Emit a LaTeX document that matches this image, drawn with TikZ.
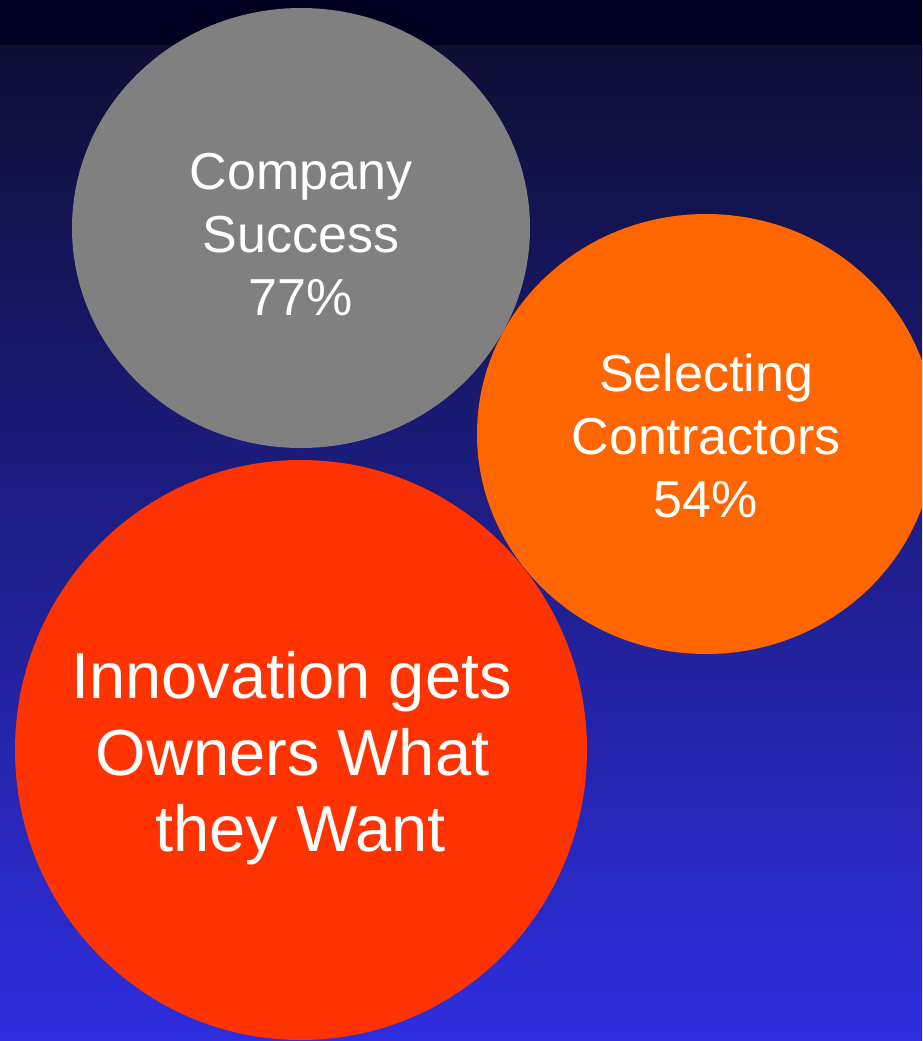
\documentclass[tikz,border=0pt]{standalone}
\usepackage{fontspec}
\setmainfont{Liberation Sans}
\usetikzlibrary{shapes.geometric}
\definecolor{topband}{RGB}{0,0,32}
\definecolor{bgtop}{RGB}{14,14,52}
\definecolor{bgbot}{RGB}{46,46,224}
\definecolor{graycirc}{RGB}{128,128,128}
\definecolor{orangecirc}{RGB}{255,102,0}
\definecolor{redcirc}{RGB}{255,51,0}
\tikzset{
  bubble/.style={ellipse, inner sep=0pt, draw=none},
  smalltext/.style={text=white, align=center, inner sep=0pt, font=\fontsize{52}{63}\selectfont},
  bigline/.style={text=white, inner sep=0pt, anchor=base, font=\fontsize{65}{77}\selectfont}
}
\begin{document}
\begin{tikzpicture}[x=1pt,y=-1pt]
\useasboundingbox (0,0) rectangle (922,1041);
\shade[top color=bgtop, bottom color=bgbot] (0,45) rectangle (922,1041);
\fill[topband] (0,0) rectangle (922,45);
\begin{scope}
\clip (0,0) rectangle (922,1041);
\node[bubble, fill=graycirc, minimum width=458pt, minimum height=440pt] (gray) at (301,228) {};
\node[bubble, fill=orangecirc, minimum width=458pt, minimum height=440pt] (orange) at (706,434) {};
\node[bubble, fill=redcirc, minimum width=572pt, minimum height=580pt] (red) at (301,750) {};
\end{scope}
\node[smalltext] (graylbl) at (301,234) {Company\\Success\\77\%};
\node[smalltext] (orangelbl) at (706,436) {Selecting\\Contractors\\54\%};
\node[bigline] (redA) at (291.5,698) {Innovation gets};
\node[bigline] (redB) at (292.5,775) {Owners What};
\node[bigline] (redC) at (300.5,851) {they Want};
\end{tikzpicture}
\end{document}
